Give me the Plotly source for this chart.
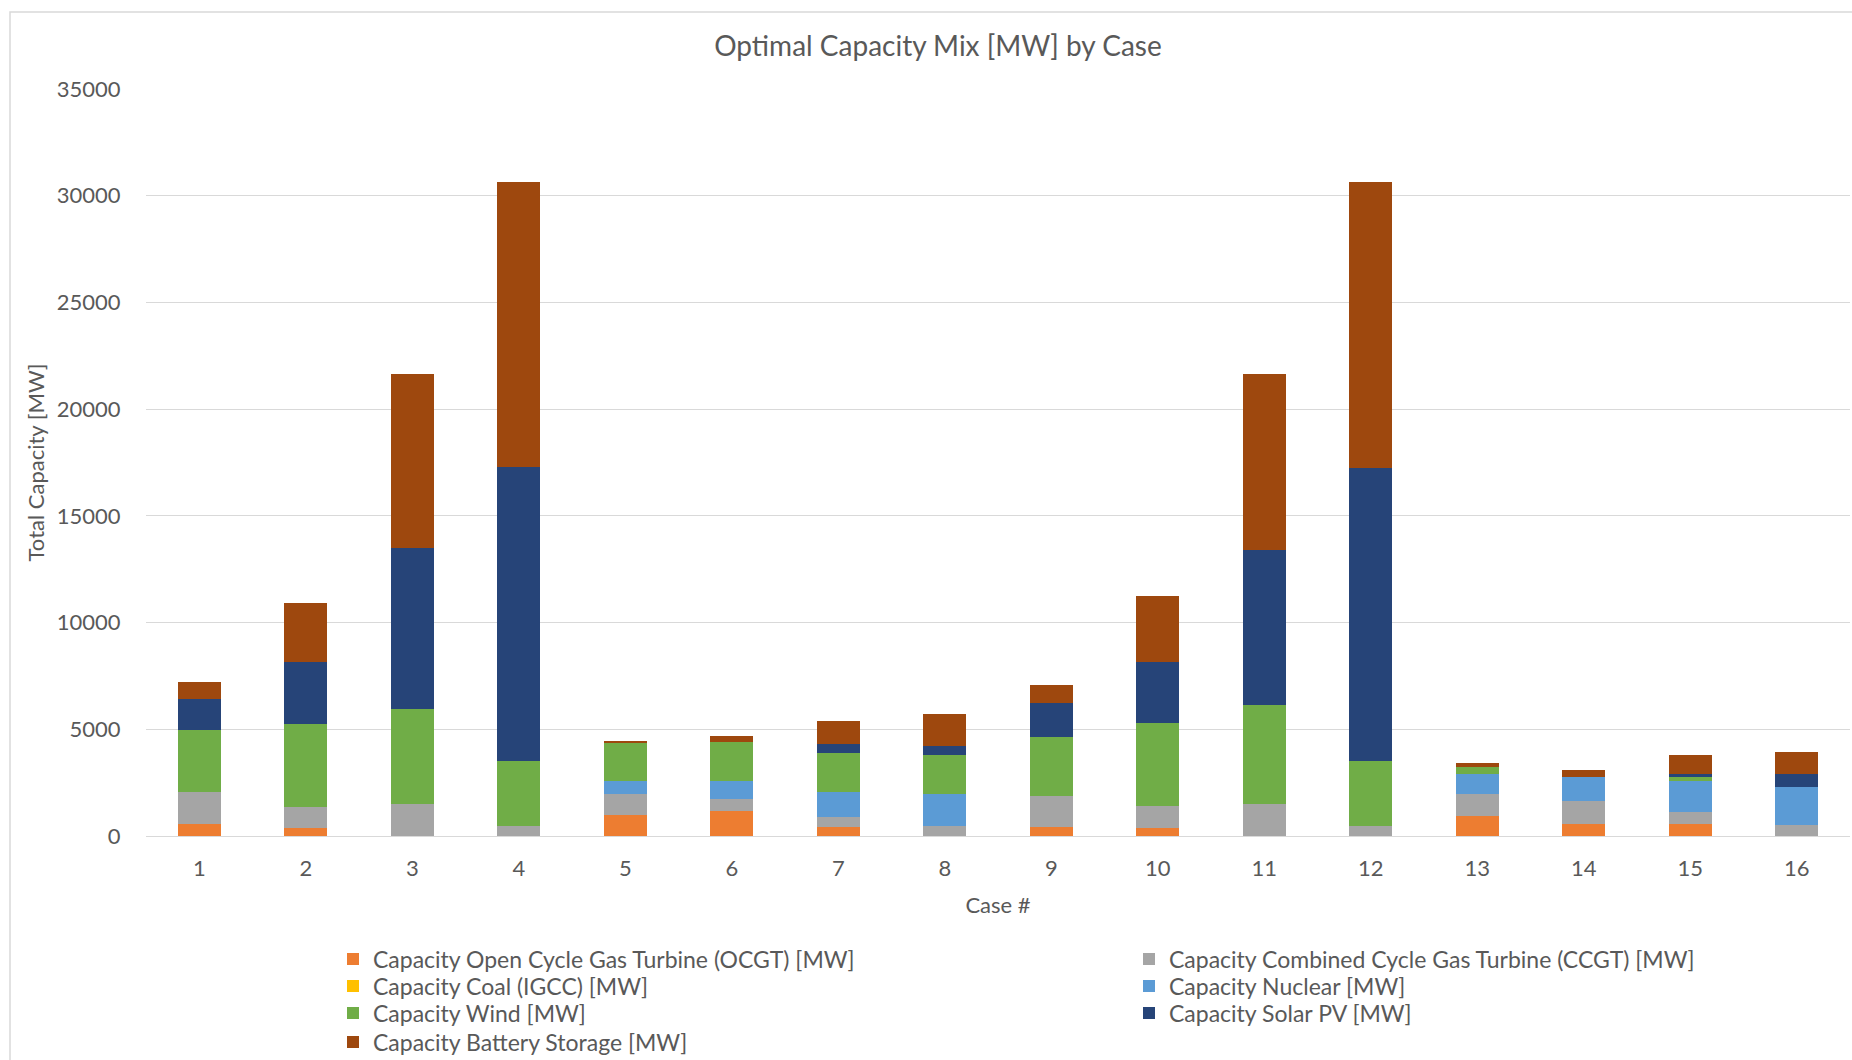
import plotly.graph_objects as go

# Cases on the x axis
cases = [str(i) for i in range(1, 17)]

# Installed capacity by technology [MW], one value per case
ocgt = [560, 390, 0, 0, 969, 1156, 406, 0, 406, 390, 0, 0, 953, 578, 578, 0]
ccgt = [1500, 985, 1500, 450, 984, 562, 484, 468, 1484, 1000, 1500, 468, 1007, 1062, 547, 530]
coal = [0, 0, 0, 0, 0, 0, 0, 0, 0, 0, 0, 0, 0, 0, 0, 0]
nuclear = [0, 0, 0, 0, 640, 875, 1172, 1500, 0, 0, 0, 0, 930, 1125, 1468, 1780]
wind = [2890, 3860, 4436, 3060, 1796, 1811, 1811, 1827, 2764, 3920, 4623, 3062, 350, 0, 172, 0]
solar = [1450, 2935, 7560, 13756, 0, 0, 453, 422, 1562, 2828, 7260, 13726, 0, 0, 125, 595]
battery = [830, 2735, 8135, 13391, 78, 281, 1062, 1514, 843, 3122, 8246, 13391, 180, 312, 889, 1015]

series_names = [
    "Capacity Open Cycle Gas Turbine (OCGT) [MW]",
    "Capacity Combined Cycle Gas Turbine (CCGT) [MW]",
    "Capacity Coal (IGCC) [MW]",
    "Capacity Nuclear [MW]",
    "Capacity Wind [MW]",
    "Capacity Solar PV [MW]",
    "Capacity Battery Storage [MW]",
]
series_values = [ocgt, ccgt, coal, nuclear, wind, solar, battery]
series_colors = ["#ED7D31", "#A5A5A5", "#FFC000", "#5B9BD5", "#70AD47", "#264478", "#9E480E"]

W, H = 1852, 1060
ML, MR, MT, MB = 146, 2, 89, 224
PW, PH = W - ML - MR, H - MT - MB

FONT = "Lato"
TXT = "#595959"
GRID = "#D9D9D9"


def px_x(px):
    return (px - ML) / PW


def px_y(py):
    return (H - MB - py) / PH


# Legend laid out as a two-column grid, filled row by row
LEG_TEXT_X = [373, 1169]
LEG_ROW_Y = [959, 986, 1013, 1042]

fig = go.Figure()
legend_layouts = {}
for i, (name, vals, col) in enumerate(zip(series_names, series_values, series_colors)):
    key = "legend" if i == 0 else f"legend{i + 1}"
    fig.add_trace(go.Bar(
        x=cases, y=vals, name=name, legend=key, showlegend=True,
        marker=dict(color=col, line=dict(width=0)),
    ))
    row, column = divmod(i, 2)
    legend_layouts[key] = dict(
        x=px_x(LEG_TEXT_X[column] - 40), xanchor="left",
        y=px_y(LEG_ROW_Y[row]), yanchor="middle",
        orientation="v",
        font=dict(family=FONT, size=23, color=TXT),
        bgcolor="rgba(0,0,0,0)", borderwidth=0,
        itemclick=False, itemdoubleclick=False,
    )

fig.update_layout(
    width=W, height=H, autosize=False,
    template="none",
    showlegend=True,
    barmode="stack", bargap=0.6,
    paper_bgcolor="white", plot_bgcolor="white",
    margin=dict(l=ML, r=MR, t=MT, b=MB, pad=0, autoexpand=False),
    font=dict(family=FONT, size=22, color=TXT),
    title=dict(
        text="Optimal Capacity Mix [MW] by Case",
        x=938 / W, xref="container", xanchor="center",
        y=1 - 46 / H, yref="container", yanchor="middle",
        font=dict(family=FONT, size=28, color=TXT),
    ),
    xaxis=dict(
        type="category",
        showgrid=False, showline=True, linecolor=GRID, linewidth=1,
        ticks="outside", ticklen=13, tickcolor="rgba(0,0,0,0)",
        tickfont=dict(family=FONT, size=22, color=TXT),
        title=dict(text="Case #", font=dict(family=FONT, size=22, color=TXT), standoff=17),
    ),
    yaxis=dict(
        range=[0, 35000], dtick=5000, tick0=0, tickformat="d",
        showgrid=True, gridcolor=GRID, gridwidth=1,
        zeroline=False, showline=False,
        ticks="outside", ticklen=20, tickcolor="rgba(0,0,0,0)",
        tickfont=dict(family=FONT, size=22, color=TXT),
        title=dict(text="Total Capacity [MW]", font=dict(family=FONT, size=22, color=TXT), standoff=6),
    ),
    shapes=[dict(
        type="rect", xref="paper", yref="paper",
        x0=px_x(10), x1=px_x(1880), y0=px_y(1090), y1=px_y(12),
        line=dict(color=GRID, width=1.5), fillcolor="rgba(0,0,0,0)", layer="below",
    )],
    **legend_layouts,
)

fig.write_html("out.html")
